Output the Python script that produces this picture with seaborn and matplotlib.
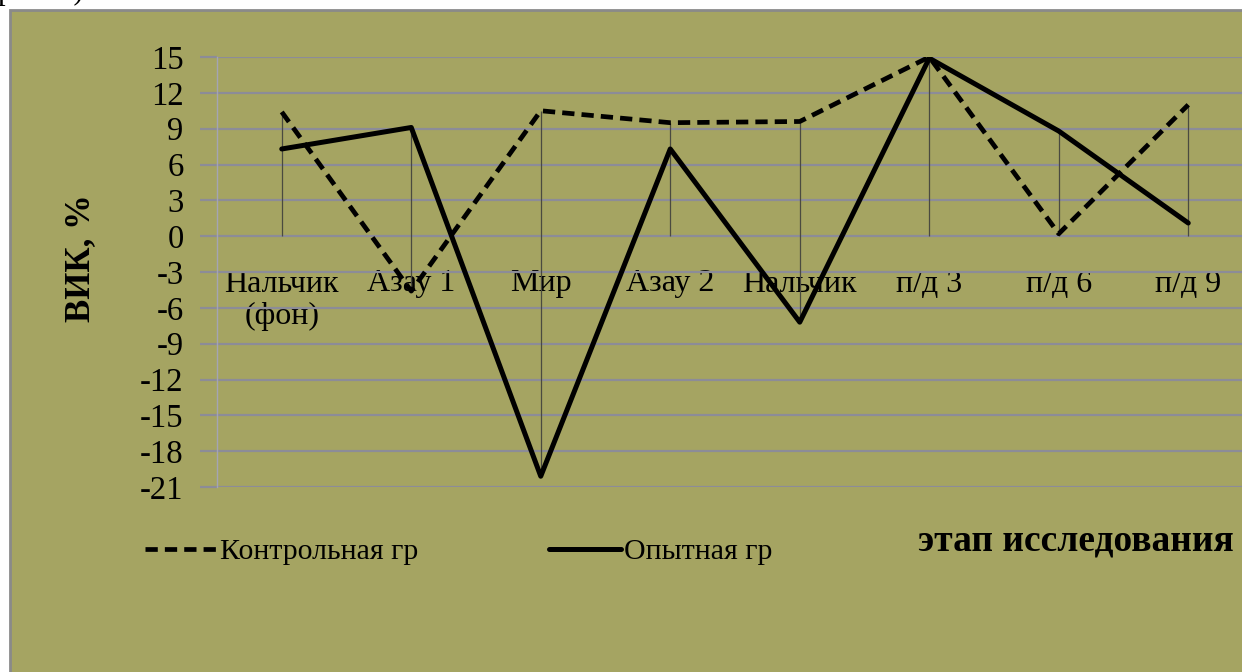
import numpy as np
import pandas as pd
import matplotlib
matplotlib.use("Agg")
import matplotlib.pyplot as plt
from matplotlib.patches import Rectangle
from matplotlib.lines import Line2D
import seaborn as sns

# ---- data ----
categories = ["Нальчик\n(фон)", "Азау 1", "Мир", "Азау 2", "Нальчик", "п/д 3", "п/д 6", "п/д 9"]
control = [10.4, -4.6, 10.5, 9.5, 9.6, 15.0, 0.2, 11.0]
experimental = [7.3, 9.1, -20.1, 7.3, -7.2, 14.9, 8.8, 1.1]
yticks = list(range(-21, 16, 3))
series_names = ["Контрольная гр", "Опытная гр"]

W, H = 1242, 672
BG = "#A5A462"
GRID = "#8C8C98"

sns.set_theme(style="white")
plt.rcParams["font.family"] = ["Liberation Serif", "DejaVu Serif"]
for k in ["text.color", "axes.labelcolor", "xtick.color", "ytick.color"]:
    plt.rcParams[k] = "black"

fig = plt.figure(figsize=(W / 100, H / 100), dpi=100, facecolor="white")

# chart frame (cropped on right/bottom)
fig.patches.append(Rectangle((10 / W, -0.1), 1.2, (H - 10) / H + 0.1,
                             transform=fig.transFigure, facecolor=BG,
                             edgecolor="#8a8a8a", linewidth=2, zorder=-5))
fig.text(-2 / W, 1 + 1 / H, "рис. 2).", fontsize=22, ha="left", va="baseline",
         color="black")

ax = fig.add_axes([217 / W, (H - 487) / H, (1253 - 217) / W, (487 - 57) / H])
ax.set_facecolor("none")
ax.set_zorder(2)

x = np.arange(len(categories))
df = pd.DataFrame({
    "x": np.concatenate([x, x]),
    "val": control + experimental,
    "grp": [series_names[0]] * len(x) + [series_names[1]] * len(x),
})

# drop lines
cvals = np.array(control)
evals = np.array(experimental)
lo = np.minimum(0, np.minimum(cvals, evals))
hi = np.maximum(0, np.maximum(cvals, evals))
ax.vlines(x, lo, hi, color="#4a4a40", linewidth=0.9, zorder=2)

sns.lineplot(data=df[df.grp == series_names[0]], x="x", y="val", ax=ax,
             color="black", linewidth=3.4, legend=False, zorder=3)
sns.lineplot(data=df[df.grp == series_names[1]], x="x", y="val", ax=ax,
             color="black", linewidth=3.6, legend=False, zorder=4)
ax.lines[0].set_dashes((2.6, 1.5))

ax.set_xlim(-0.5, len(categories) - 0.5)
ax.set_ylim(-21, 15)
ax.set_yticks(yticks)
ax.set_yticklabels([str(t) for t in yticks], fontsize=23.5)
ax.yaxis.grid(True, color=GRID, linewidth=1.6, zorder=1)
ax.xaxis.grid(False)
ax.set_axisbelow(True)
ax.tick_params(axis="y", length=12, width=1.6, color=GRID, pad=12, left=True)

ax.spines["bottom"].set_position(("data", 0))
ax.spines["bottom"].set_visible(False)
ax.spines["top"].set_visible(False)
ax.spines["right"].set_visible(False)
ax.spines["left"].set_color("#a4a4b4")
ax.spines["left"].set_linewidth(1.0)
ax.set_xticks(x)
ax.set_xticklabels(categories, fontsize=23, linespacing=1.15)
ax.tick_params(axis="x", length=0, pad=24)

ax.set_ylabel("ВИК, %", fontsize=25, fontweight="bold", va="center")
ax.yaxis.set_label_coords((81 - 217) / 1036, (487 - 258) / 430)
ax.set_xlabel("этап исследования", fontsize=27, fontweight="bold",
              ha="right", va="center")
ax.xaxis.set_label_coords((1234 - 217) / 1036, (487 - 541) / 430)

handles = [Line2D([], [], color="black", linewidth=3.4, dashes=(2.6, 1.5)),
           Line2D([], [], color="black", linewidth=3.6)]
fig.legend(handles, series_names, loc="center left",
           bbox_to_anchor=(145 / W, 1 - 552 / H), ncol=2, frameon=False,
           fontsize=21.5, handlelength=2.4, handletextpad=0.1,
           columnspacing=4.4, borderpad=0, borderaxespad=0)

fig.savefig("out.png", dpi=100, facecolor="white")
